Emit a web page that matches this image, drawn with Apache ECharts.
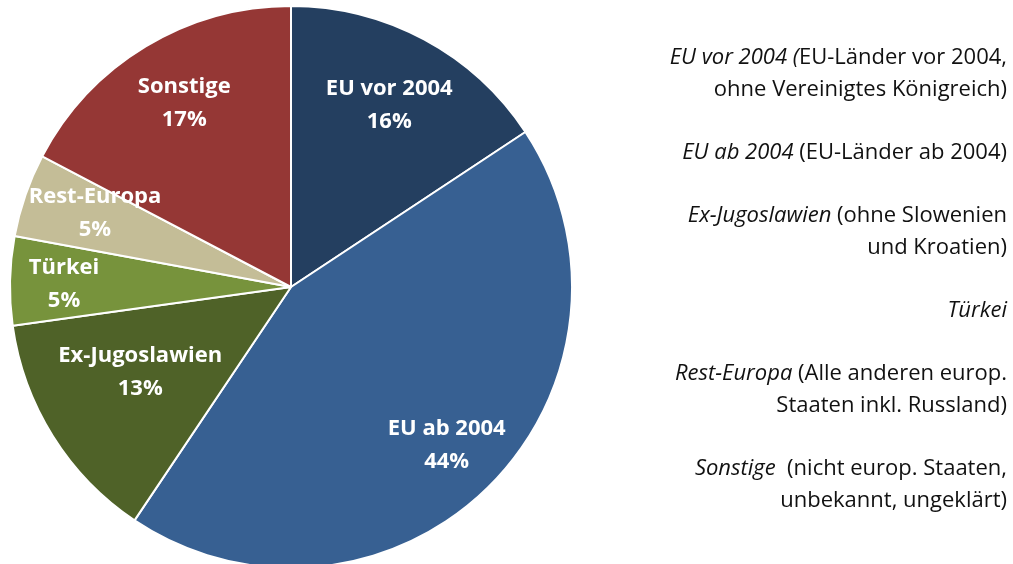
<!DOCTYPE html>
<html>
<head>
<meta charset="utf-8">
<script src="https://cdn.jsdelivr.net/npm/echarts@6/dist/echarts.min.js"></script>
<style>
  html, body { margin: 0; padding: 0; background: #fff; }
  #main { width: 1013px; height: 564px; }
</style>
</head>
<body>
<div id="main"></div>
<script>
// Anteile (Uhrzeigersinn ab 12 Uhr)
const categories = ['EU vor 2004', 'EU ab 2004', 'Ex-Jugoslawien', 'Türkei', 'Rest-Europa', 'Sonstige'];
const values = [15.7, 43.7, 13.4, 5.1, 4.8, 17.3];
const colors = ['#243F60', '#376092', '#4F6228', '#77933C', '#C4BD97', '#953735'];

// Erläuterungen rechts: [kursiver Teil, normaler Teil]
const notes = [
  ['EU vor 2004 (', 'EU-Länder vor 2004,\nohne Vereinigtes Königreich)'],
  ['EU ab 2004', ' (EU-Länder ab 2004)'],
  ['Ex-Jugoslawien', ' (ohne Slowenien\nund Kroatien)'],
  ['Türkei', ''],
  ['Rest-Europa', ' (Alle anderen europ.\nStaaten inkl. Russland)'],
  ['Sonstige', '  (nicht europ. Staaten,\nunbekannt, ungeklärt)']
];

// kleine Korrekturen der Beschriftungslage
const labelOffsets = [[-5, 10], [2, 4], [34, -30], [-9, 2], [10, -3], [6, 3]];

const font = '"Open Sans", sans-serif';

var chart = echarts.init(document.getElementById('main'));

// one text element per line, right aligned
let noteLines = [];
notes.forEach((n, idx) => {
  const rest = n[1].split('\n');
  noteLines.push('{i|' + n[0] + '}' + (rest[0] ? '{n|' + rest[0] + '}' : ''));
  for (let k = 1; k < rest.length; k++) noteLines.push('{n|' + rest[k] + '}');
  if (idx < notes.length - 1) noteLines.push(null);
});

const noteGraphics = [];
noteLines.forEach((t, k) => {
  if (!t) return;
  noteGraphics.push({
    type: 'text',
    x: 1007,
    y: 58 + 31.6 * k,
    style: {
      text: t,
      align: 'right',
      verticalAlign: 'middle',
      fill: '#111',
      rich: {
        i: { fontStyle: 'italic', fontSize: 22, fontFamily: font, fill: '#111' },
        n: { fontSize: 22, fontFamily: font, fill: '#111' }
      }
    }
  });
});

var option = {
  animation: false,
  series: [
    {
      type: 'pie',
      center: [291, 287],
      radius: [0, 281],
      startAngle: 90,
      clockwise: true,
      silent: true,
      label: { show: false },
      labelLine: { show: false },
      itemStyle: { borderColor: '#fff', borderWidth: 2 },
      data: categories.map((c, i) => ({ name: c, value: values[i], itemStyle: { color: colors[i] } }))
    },
    {
      // unsichtbarer Ring nur für die Beschriftungen
      type: 'pie',
      center: [291, 287],
      radius: [0, 430],
      startAngle: 90,
      clockwise: true,
      silent: true,
      avoidLabelOverlap: false,
      labelLayout: { hideOverlap: false },
      itemStyle: { color: 'rgba(0,0,0,0)' },
      labelLine: { show: false },
      label: {
        show: true,
        position: 'inside',
        color: '#fff',
        fontFamily: font,
        fontWeight: 'bold',
        fontSize: 22,
        lineHeight: 33,
        formatter: p => p.name + '\n' + Math.round(p.value) + '%'
      },
      data: categories.map((c, i) => ({
        name: c, value: values[i],
        label: { offset: labelOffsets[i] }
      }))
    }
  ],
  graphic: noteGraphics
};
chart.setOption(option);
</script>
</body>
</html>
